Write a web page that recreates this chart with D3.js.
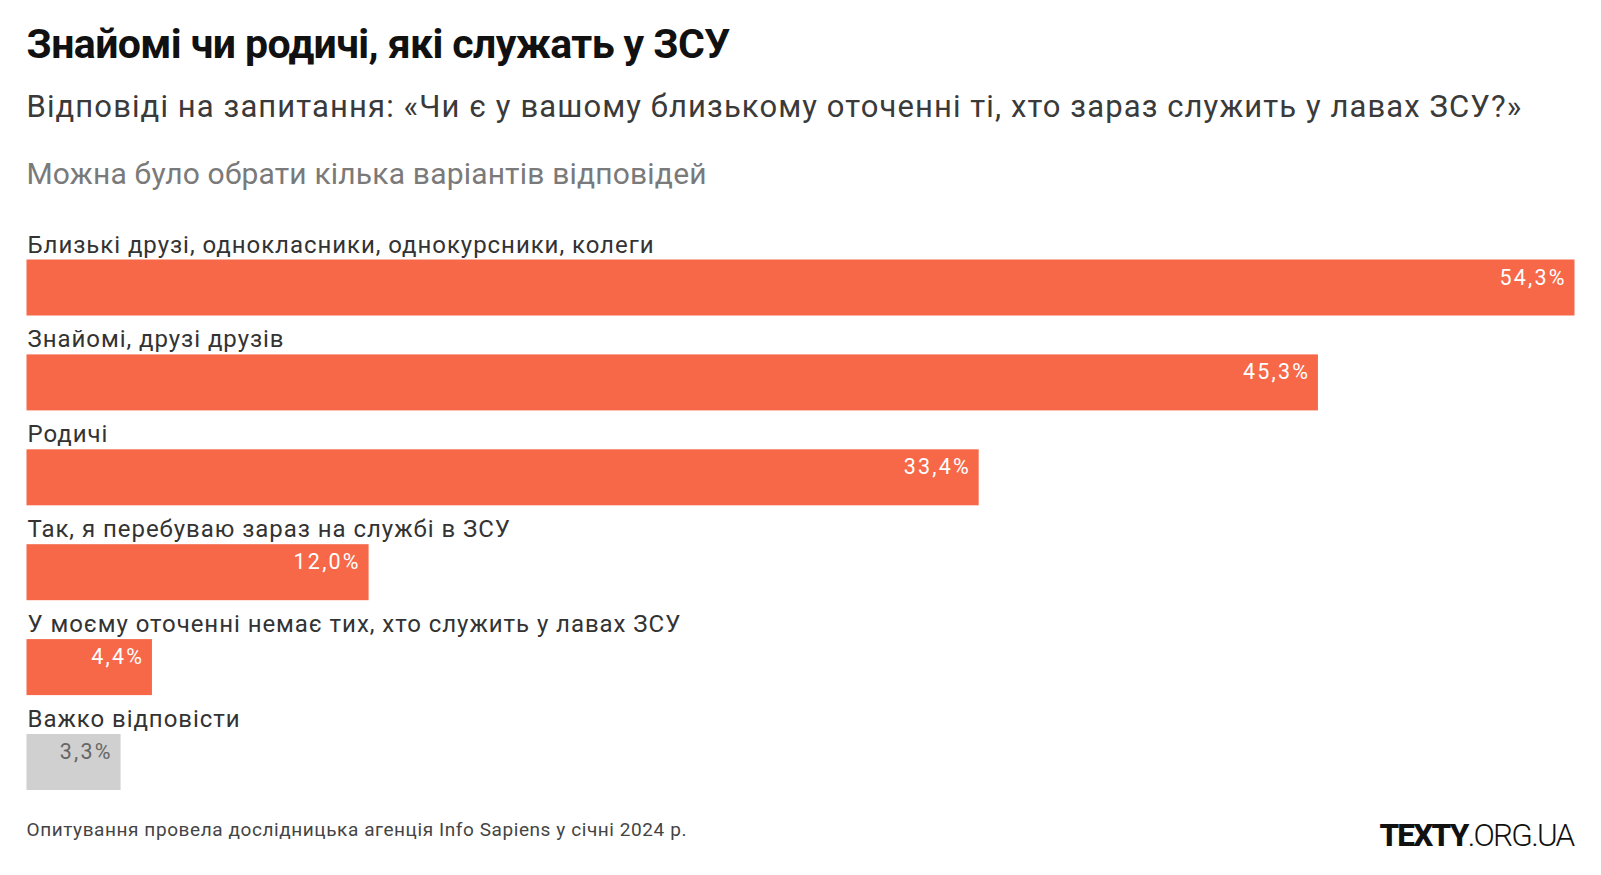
<!DOCTYPE html>
<html><head><meta charset="utf-8">
<script src="https://cdn.jsdelivr.net/npm/d3@7"></script>
<style>
html,body{margin:0;padding:0;background:#fff;}
svg{display:block;}
text{font-family:Roboto,"Noto Sans",sans-serif;}
</style></head>
<body>
<svg id="chart" width="1601" height="875"></svg>
<script>
const categories = [
  "Близькі друзі, однокласники, однокурсники, колеги",
  "Знайомі, друзі друзів",
  "Родичі",
  "Так, я перебуваю зараз на службі в ЗСУ",
  "У моєму оточенні немає тих, хто служить у лавах ЗСУ",
  "Важко відповісти"
];
const values = [54.3, 45.3, 33.4, 12.0, 4.4, 3.3];
const valueLabels = ["54,3%", "45,3%", "33,4%", "12,0%", "4,4%", "3,3%"];
const highlight = [true, true, true, true, true, false];

const title = "Знайомі чи родичі, які служать у ЗСУ";
const subtitle = "Відповіді на запитання: «Чи є у вашому близькому оточенні ті, хто зараз служить у лавах ЗСУ?»";
const note = "Можна було обрати кілька варіантів відповідей";
const source = "Опитування провела дослідницька агенція Info Sapiens у січні 2024 р.";

const svg = d3.select("#chart");
const left = 26.5, right = 1574.5;

svg.append("text").attr("x", left).attr("y", 57.5)
  .attr("font-size", 41).attr("font-weight", 700).attr("letter-spacing", -0.6)
  .attr("fill", "#111").text(title);
svg.append("text").attr("x", left).attr("y", 116.5)
  .attr("font-size", 31).attr("letter-spacing", 1.1).attr("fill", "#3a3a3a").text(subtitle);
svg.append("text").attr("x", left).attr("y", 184)
  .attr("font-size", 30).attr("letter-spacing", 0.18).attr("fill", "#7a7a7a").text(note);

const barH = 56, step = 94.9, top0 = 259.5;
const x = d3.scaleLinear().domain([0, d3.max(values)]).range([left, right]);
const y = d3.scaleBand().domain(categories)
  .range([top0, top0 + step * categories.length - (step - barH)])
  .paddingInner((step - barH) / step).paddingOuter(0);

const rows = svg.append("g").selectAll("g.row").data(categories).join("g").attr("class", "row");
rows.append("rect")
  .attr("x", x(0)).attr("y", d => y(d))
  .attr("width", (d, i) => x(values[i]) - x(0))
  .attr("height", y.bandwidth())
  .attr("fill", (d, i) => highlight[i] ? "#f66848" : "#d0d0d0");
rows.append("text")
  .attr("x", x(0) + 1).attr("y", d => y(d) - 7)
  .attr("font-size", 24).attr("letter-spacing", 0.95)
  .attr("fill", "#333").text(d => d);
rows.append("text")
  .attr("x", (d, i) => x(values[i]) - 10 + 2.2).attr("y", d => y(d) + 25)
  .attr("text-anchor", "end").attr("font-size", 21.5).attr("letter-spacing", 2.2)
  .attr("fill", (d, i) => highlight[i] ? "#fff" : "#666")
  .text((d, i) => valueLabels[i]);

svg.append("text").attr("x", left).attr("y", 836)
  .attr("font-size", 19).attr("letter-spacing", 0.58).attr("fill", "#444").text(source);

const logo = svg.append("text").attr("x", right - 1).attr("y", 846)
  .attr("text-anchor", "end").attr("font-size", 31.5).attr("fill", "#111")
  .attr("letter-spacing", -1.75);
logo.append("tspan").attr("font-weight", 800).text("TEXTY");
logo.append("tspan").attr("font-weight", 300).text(".ORG.UA");
</script>
</body></html>
